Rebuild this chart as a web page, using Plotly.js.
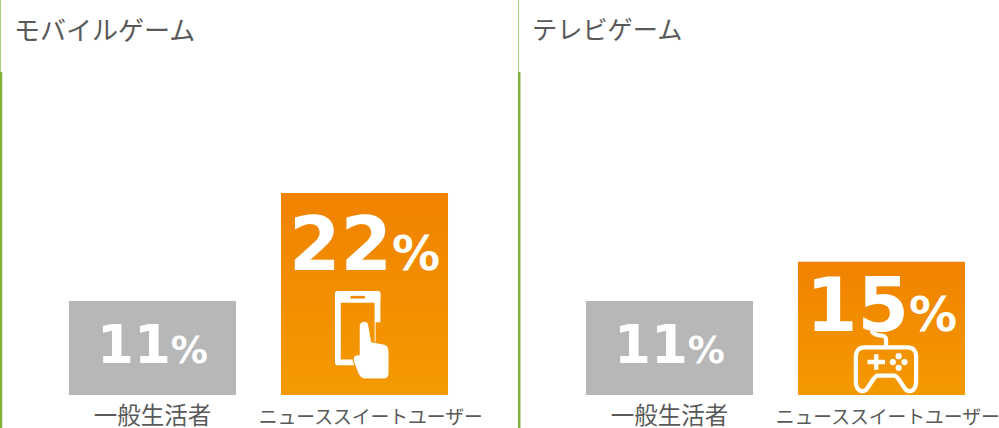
<!DOCTYPE html>
<html><head><meta charset="utf-8">
<script src="https://cdn.plot.ly/plotly-3.0.1.min.js"></script>
<style>html,body{margin:0;padding:0;background:#fff;overflow:hidden}#c{width:999px;height:428px}</style>
</head><body><div id="c"></div>
<script>
const categories = ["一般生活者", "ニューススイートユーザー"];
const panelTitles = ["モバイルゲーム", "テレビゲーム"];
const mobileValues = [11, 22];
const consoleValues = [11, 15];
const barColors = ["#B6B7B6", "#F28A00"];
const W = 999, H = 428;
const px = (a) => a / W, py = (a) => 1 - a / H;
const FONT = '"Noto Sans CJK JP","Noto Sans",sans-serif';
const yRange = [1.43, 34.2];
const tickText = [`<span style="font-size:23.5px">${categories[0]}</span>`, "&#160;&#160;&#160;" + categories[1]];

const phone = `<svg xmlns="http://www.w3.org/2000/svg" width="60" height="94" viewBox="0 0 60 94">
<path fill="none" stroke="#fff" stroke-width="6" stroke-linejoin="round" d="M4 5h41v70H4z"/>
<rect x="1" y="2" width="47" height="12" rx="3" fill="#fff"/>
<rect x="17" y="7" width="15" height="2.8" fill="#F28A00"/>
<path fill="#F49200" d="M43 34h8v42H24v-9h19z"/>
<path fill="#fff" stroke="#F49200" stroke-width="1.2" d="M26 38c0-6 9-7 10-1l3 17 12 2c5 1 6 4 6 8v22c0 4-3 6-6 6H32c-4 0-5-2-7-5l-5-13c-1-5 1-7 6-7z"/>
</svg>`;
const pad = `<svg xmlns="http://www.w3.org/2000/svg" width="72" height="66" viewBox="0 0 72 66">
<g fill="none" stroke="#fff" stroke-width="4.4" stroke-linejoin="round" stroke-linecap="round">
<path d="M22 1c4 6 14 1 14 8v7"/>
<path d="M14 17h44c6 0 9 4 9 9v26c0 8-5 12-10 9-3-2-8-14-12-15H27c-4 1-9 13-12 15-5 3-10-1-10-9V26c0-5 3-9 9-9z"/></g>
<path stroke="#fff" stroke-width="4.5" d="M17 32h18M26 24v16"/>
<g fill="#fff"><circle cx="49" cy="26" r="3.2"/><circle cx="49" cy="38" r="3.2"/><circle cx="43" cy="32" r="3.2"/><circle cx="55" cy="32" r="3.2"/></g>
</svg>`;
const uri = s => "data:image/svg+xml;charset=utf-8," + encodeURIComponent(s);
const icon = (s, x0, y0, x1, y1) => ({source: uri(s), xref: "paper", yref: "paper", x: px(x0), y: py(y0),
  sizex: (x1 - x0) / W, sizey: (y1 - y0) / H, xanchor: "left", yanchor: "top", sizing: "stretch", layer: "above"});

const bar = (vals, xa, ya) => ({type: "bar", x: categories, y: vals, xaxis: xa, yaxis: ya,
  marker: {color: barColors, line: {width: 0}}, hoverinfo: "skip", showlegend: false});
const vline = (x, y0, y1, color, w) => ({type: "line", xref: "paper", yref: "paper", x0: px(x), x1: px(x), y0: py(y0), y1: py(y1), line: {color, width: w}});
const xax = (d0, d1, anchor) => ({domain: [px(d0), px(d1)], anchor, type: "category", categoryorder: "array", categoryarray: categories,
  range: [-0.5, 1.5], tickmode: "array", tickvals: categories, ticktext: tickText, showgrid: false, zeroline: false,
  showline: false, ticks: "", ticklen: 0, ticklabelstandoff: 9, tickfont: {family: FONT, size: 18.8, color: "#595959"}, automargin: false, fixedrange: true, tickangle: 0});
const yax = (anchor) => ({domain: [py(395), py(73)], anchor, range: yRange, visible: false, fixedrange: true});
const valueLabel = (cat, val, xa, ya, big, small, shift) => ({xref: xa, yref: ya, x: cat, y: val, xanchor: "center", yanchor: "top", yshift: shift,
  showarrow: false, text: `<b><span style="font-size:${big}px">${val}</span><span style="font-size:${small}px">%</span></b>`,
  font: {family: '"DejaVu Sans",sans-serif', color: "#fff", size: big}});
const titleNote = (t, x, size) => ({xref: "paper", yref: "paper", x: px(x), y: py(28.5), xanchor: "left", yanchor: "middle", showarrow: false, text: t,
  font: {family: FONT, size, color: "#595959"}});

const layout = {
  width: W, height: H, margin: {l: 0, r: 0, t: 0, b: 0}, paper_bgcolor: "#fff", plot_bgcolor: "#fff", bargap: 0.212, showlegend: false,
  xaxis: xax(46.5, 470.5, "y"), yaxis: yax("x"), xaxis2: xax(563.5, 987.5, "y2"), yaxis2: yax("x2"),
  shapes: [vline(0.5, 0, 72, "#A9D47A", 1), vline(1, 72, 428, "#7FB23B", 2.5), vline(518.5, 0, 72, "#A9D47A", 1), vline(519.2, 72, 428, "#7FB23B", 2.5)],
  annotations: [
    titleNote(panelTitles[0], 12, 26), titleNote(panelTitles[1], 530, 25.2),
    valueLabel(categories[0], mobileValues[0], "x", "y", 53, 37, -11),
    valueLabel(categories[1], mobileValues[1], "x", "y", 74, 48, -6),
    valueLabel(categories[0], consoleValues[0], "x2", "y2", 53, 37, -11),
    valueLabel(categories[1], consoleValues[1], "x2", "y2", 74, 48, 2)
  ],
  images: [icon(phone, 334, 289, 392, 381), icon(pad, 851, 331, 921, 395)]
};
const gd = document.getElementById("c");
function paint() {
  const svg = gd.querySelector(".main-svg");
  const defs = svg.querySelector("defs");
  const ns = "http://www.w3.org/2000/svg";
  const g = document.createElementNS(ns, "linearGradient");
  g.setAttribute("id", "orangeGrad"); g.setAttribute("x1", "0"); g.setAttribute("y1", "0"); g.setAttribute("x2", "0"); g.setAttribute("y2", "1");
  [["0", "#F08200"], ["1", "#F59C00"]].forEach(([o, c]) => { const s = document.createElementNS(ns, "stop"); s.setAttribute("offset", o); s.setAttribute("stop-color", c); g.appendChild(s); });
  defs.appendChild(g);
  gd.querySelectorAll(".barlayer .trace").forEach(tr => {
    const p = tr.querySelectorAll(".point path");
    if (p[1]) p[1].style.fill = "url(#orangeGrad)";
  });
}
Plotly.newPlot(gd, [bar(mobileValues, "x", "y"), bar(consoleValues, "x2", "y2")], layout, {displayModeBar: false, staticPlot: true}).then(paint);
</script></body></html>
